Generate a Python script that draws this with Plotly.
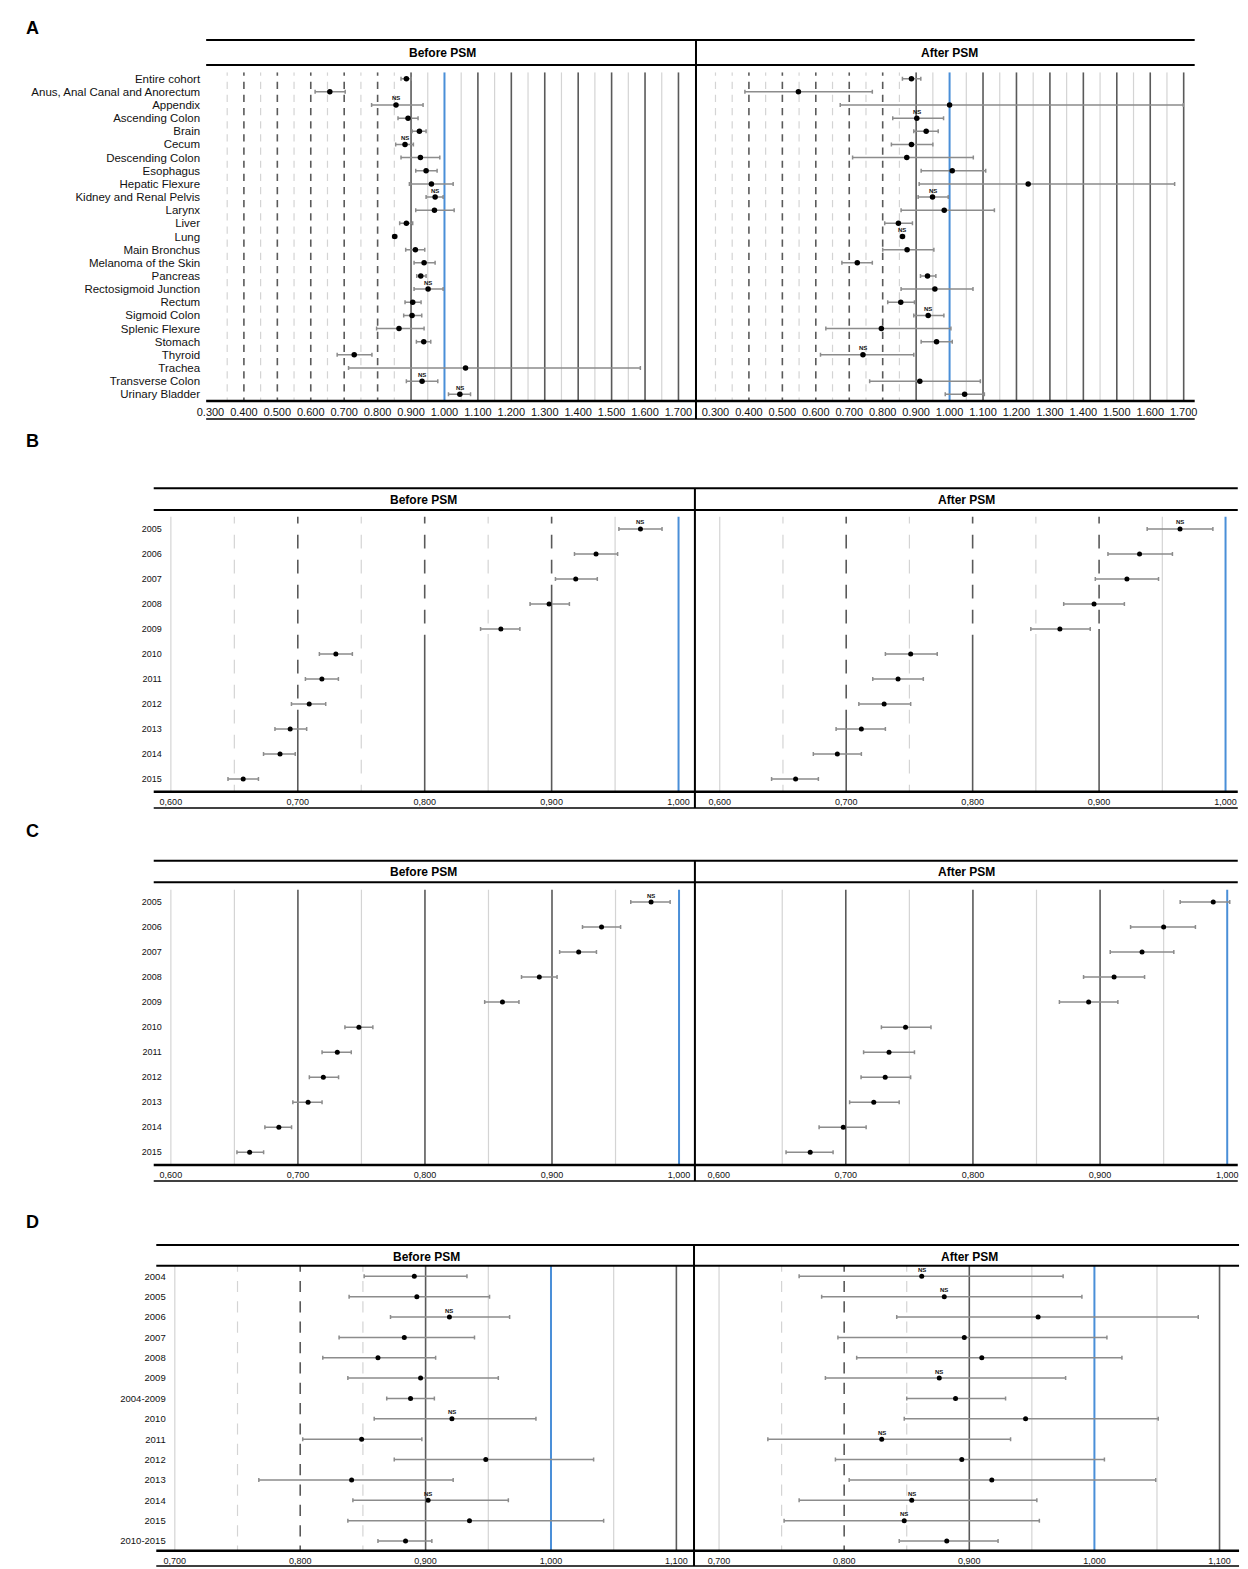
import plotly.graph_objects as go

W, H = 1248, 1569
FONT = "Liberation Sans, Arial, sans-serif"

# -------------------------------------------------------
# Data (hazard ratios with 95% CI)
# -------------------------------------------------------
a_sites = ["Entire cohort", "Anus, Anal Canal and Anorectum", "Appendix", "Ascending Colon", "Brain",
           "Cecum", "Descending Colon", "Esophagus", "Hepatic Flexure", "Kidney and Renal Pelvis",
           "Larynx", "Liver", "Lung", "Main Bronchus", "Melanoma of the Skin", "Pancreas",
           "Rectosigmoid Junction", "Rectum", "Sigmoid Colon", "Splenic Flexure", "Stomach",
           "Thyroid", "Trachea", "Transverse Colon", "Urinary Bladder"]
a_before_hr = [0.886, 0.657, 0.855, 0.891, 0.925, 0.882, 0.928, 0.945, 0.961, 0.972, 0.970, 0.886, 0.851,
               0.913, 0.939, 0.929, 0.951, 0.905, 0.903, 0.864, 0.938, 0.730, 1.063, 0.933, 1.046]
a_before_lo = [0.870, 0.613, 0.782, 0.861, 0.903, 0.854, 0.870, 0.914, 0.895, 0.945, 0.914, 0.866, 0.845,
               0.884, 0.909, 0.917, 0.909, 0.882, 0.878, 0.797, 0.916, 0.679, 0.713, 0.886, 1.012]
a_before_hi = [0.900, 0.703, 0.936, 0.921, 0.945, 0.907, 0.986, 0.978, 1.026, 0.996, 1.029, 0.905, 0.857,
               0.941, 0.972, 0.945, 0.996, 0.930, 0.932, 0.939, 0.959, 0.783, 1.586, 0.980, 1.078]
a_before_ns = ["Appendix", "Cecum", "Kidney and Renal Pelvis", "Rectosigmoid Junction",
               "Transverse Colon", "Urinary Bladder"]
a_after_hr = [0.886, 0.548, 1.000, 0.902, 0.930, 0.886, 0.872, 1.008, 1.235, 0.949, 0.984, 0.847, 0.859,
              0.873, 0.724, 0.934, 0.956, 0.854, 0.936, 0.796, 0.961, 0.741, None, 0.911, 1.045]
a_after_lo = [0.859, 0.388, 0.673, 0.830, 0.893, 0.826, 0.710, 0.915, 0.909, 0.906, 0.855, 0.806, 0.853,
              0.800, 0.678, 0.913, 0.855, 0.815, 0.893, 0.630, 0.915, 0.614, None, 0.761, 0.987]
a_after_hi = [0.914, 0.769, 1.699, 0.982, 0.966, 0.950, 1.071, 1.108, 1.673, 0.996, 1.134, 0.889, 0.865,
              0.953, 0.769, 0.959, 1.070, 0.895, 0.983, 1.004, 1.008, 0.893, None, 1.092, 1.104]
a_after_ns = ["Ascending Colon", "Kidney and Renal Pelvis", "Lung", "Sigmoid Colon", "Thyroid"]
a_ticks = [0.3, 0.4, 0.5, 0.6, 0.7, 0.8, 0.9, 1.0, 1.1, 1.2, 1.3, 1.4, 1.5, 1.6, 1.7]
a_ticktext = ["0.300", "0.400", "0.500", "0.600", "0.700", "0.800", "0.900", "1.000",
              "1.100", "1.200", "1.300", "1.400", "1.500", "1.600", "1.700"]

bc_years = ["2005", "2006", "2007", "2008", "2009", "2010", "2011", "2012", "2013", "2014", "2015"]
b_before_hr = [0.970, 0.935, 0.919, 0.898, 0.860, 0.730, 0.719, 0.709, 0.694, 0.686, 0.657]
b_before_lo = [0.953, 0.918, 0.903, 0.883, 0.844, 0.717, 0.706, 0.695, 0.682, 0.673, 0.645]
b_before_hi = [0.987, 0.952, 0.936, 0.914, 0.875, 0.743, 0.732, 0.722, 0.707, 0.698, 0.669]
b_before_ns = ["2005"]
b_after_hr = [0.964, 0.932, 0.922, 0.896, 0.869, 0.751, 0.741, 0.730, 0.712, 0.693, 0.660]
b_after_lo = [0.938, 0.907, 0.897, 0.872, 0.846, 0.731, 0.721, 0.710, 0.692, 0.674, 0.641]
b_after_hi = [0.990, 0.958, 0.947, 0.920, 0.893, 0.772, 0.761, 0.751, 0.731, 0.712, 0.678]
b_after_ns = ["2005"]

c_before_hr = [0.978, 0.939, 0.921, 0.890, 0.861, 0.748, 0.731, 0.720, 0.708, 0.685, 0.662]
c_before_lo = [0.962, 0.924, 0.906, 0.876, 0.847, 0.737, 0.719, 0.709, 0.696, 0.674, 0.652]
c_before_hi = [0.993, 0.954, 0.935, 0.904, 0.874, 0.759, 0.742, 0.732, 0.719, 0.695, 0.673]
c_before_ns = ["2005"]
c_after_hr = [0.989, 0.950, 0.933, 0.911, 0.891, 0.747, 0.734, 0.731, 0.722, 0.698, 0.672]
c_after_lo = [0.963, 0.924, 0.908, 0.887, 0.868, 0.728, 0.714, 0.712, 0.703, 0.679, 0.653]
c_after_hi = [1.002, 0.975, 0.958, 0.935, 0.914, 0.767, 0.754, 0.751, 0.742, 0.716, 0.690]
c_after_ns = []
bc_ticks = [0.6, 0.7, 0.8, 0.9, 1.0]
bc_ticktext = ["0,600", "0,700", "0,800", "0,900", "1,000"]

d_groups = ["2004", "2005", "2006", "2007", "2008", "2009", "2004-2009",
            "2010", "2011", "2012", "2013", "2014", "2015", "2010-2015"]
d_before_hr = [0.891, 0.893, 0.919, 0.883, 0.862, 0.896, 0.888, 0.921, 0.849, 0.948, 0.841, 0.902, 0.935, 0.884]
d_before_lo = [0.851, 0.839, 0.872, 0.831, 0.818, 0.838, 0.869, 0.859, 0.802, 0.875, 0.767, 0.842, 0.838, 0.862]
d_before_hi = [0.933, 0.951, 0.967, 0.939, 0.908, 0.958, 0.907, 0.988, 0.897, 1.034, 0.922, 0.966, 1.042, 0.905]
d_before_ns = ["2006", "2010", "2014"]
d_after_hr = [0.862, 0.880, 0.955, 0.896, 0.910, 0.876, 0.889, 0.945, 0.830, 0.894, 0.918, 0.854, 0.848, 0.882]
d_after_lo = [0.764, 0.782, 0.842, 0.795, 0.810, 0.785, 0.850, 0.848, 0.739, 0.793, 0.804, 0.764, 0.752, 0.844]
d_after_hi = [0.975, 0.990, 1.083, 1.010, 1.022, 0.977, 0.929, 1.051, 0.933, 1.008, 1.049, 0.954, 0.956, 0.923]
d_after_ns = ["2004", "2005", "2009", "2011", "2014", "2015"]
d_ticks = [0.7, 0.8, 0.9, 1.0, 1.1]
d_ticktext = ["0,700", "0,800", "0,900", "1,000", "1,100"]

# -------------------------------------------------------
# Styles
# -------------------------------------------------------
LIGHT = "#d4d4d4"
DARK = "#5a5a5a"
BLUE = "#4a8fd8"
WHISKER = "#8c8c8c"

# grid specs: (value, kind, row where the line turns solid; None = dashed all the way)
ALL = -0.5
grid_a_left = ([(v, "light", None) for v in [0.35, 0.45, 0.55, 0.65, 0.75, 0.85]]
               + [(v, "light", ALL) for v in [0.95, 1.05, 1.15, 1.25, 1.35, 1.45, 1.55, 1.65]]
               + [(v, "dark", None) for v in [0.4, 0.5, 0.6, 0.7, 0.8]]
               + [(v, "dark", ALL) for v in [0.9, 1.1, 1.2, 1.3, 1.4, 1.5, 1.6, 1.7]])
grid_a_right = [(0.3, "light", None)] + grid_a_left
grid_b_left = [(0.6, "light", ALL), (0.65, "light", None), (0.75, "light", None), (0.85, "light", 4.2),
               (0.95, "light", ALL), (0.7, "dark", 7.24), (0.8, "dark", 4.24), (0.9, "dark", 2.24)]
grid_b_right = [(0.6, "light", ALL), (0.65, "light", None), (0.75, "light", None), (0.85, "light", 4.2),
                (0.95, "light", ALL), (0.7, "dark", 7.24), (0.8, "dark", 4.24), (0.9, "dark", 4.0)]
grid_c_left = [(v, "light", ALL) for v in [0.6, 0.65, 0.75, 0.85, 0.95]] + \
              [(v, "dark", ALL) for v in [0.7, 0.8, 0.9]]
grid_c_right = [(v, "light", ALL) for v in [0.65, 0.75, 0.85, 0.95]] + \
               [(v, "dark", ALL) for v in [0.7, 0.8, 0.9]]
grid_d = [(0.7, "light", ALL), (0.75, "light", None), (0.85, "light", None), (0.95, "light", ALL),
          (1.05, "light", ALL), (0.8, "dark", None), (0.9, "dark", ALL), (1.1, "dark", ALL)]

# -------------------------------------------------------
# Panels (pixel geometry of the original figure)
# -------------------------------------------------------
panels = [
    dict(labels=a_sites, hr=a_before_hr, lo=a_before_lo, hi=a_before_hi, ns=a_before_ns,
         xmap=((0.4, 235.3), (1.0, 438.8)), xdom=(200, 690), rows=(78.7, 394.3), so=8,
         ticks=a_ticks, ticktext=a_ticktext, grid=grid_a_left, left=True, lab=11.5, tick=11, ms=5.5),
    dict(labels=a_sites, hr=a_after_hr, lo=a_after_lo, hi=a_after_hi, ns=a_after_ns,
         xmap=((0.4, 747.7), (1.0, 951.3)), xdom=(698, 1197), rows=(78.7, 394.3), so=8,
         ticks=a_ticks, ticktext=a_ticktext, grid=grid_a_right, left=False, lab=11.5, tick=11, ms=5.5),
    dict(labels=bc_years, hr=b_before_hr, lo=b_before_lo, hi=b_before_hi, ns=b_before_ns,
         xmap=((0.6, 161.2), (1.0, 676.3)), xdom=(157, 690), rows=(529, 779), so=4,
         ticks=bc_ticks, ticktext=bc_ticktext, grid=grid_b_left, left=True, lab=9, tick=9, ms=5),
    dict(labels=bc_years, hr=b_after_hr, lo=b_after_lo, hi=b_after_hi, ns=b_after_ns,
         xmap=((0.6, 718.1), (1.0, 1231.3)), xdom=(697, 1243), rows=(529, 779), so=4,
         ticks=bc_ticks, ticktext=bc_ticktext, grid=grid_b_right, left=False, lab=9, tick=9, ms=5),
    dict(labels=bc_years, hr=c_before_hr, lo=c_before_lo, hi=c_before_hi, ns=c_before_ns,
         xmap=((0.6, 161.2), (1.0, 676.8)), xdom=(157, 690), rows=(902, 1152.3), so=4,
         ticks=bc_ticks, ticktext=bc_ticktext, grid=grid_c_left, left=True, lab=9, tick=9, ms=5),
    dict(labels=bc_years, hr=c_after_hr, lo=c_after_lo, hi=c_after_hi, ns=c_after_ns,
         xmap=((0.6, 717.0), (1.0, 1233.0)), xdom=(697, 1243), rows=(902, 1152.3), so=4,
         ticks=bc_ticks, ticktext=bc_ticktext, grid=grid_c_right, left=False, lab=9, tick=9, ms=5),
    dict(labels=d_groups, hr=d_before_hr, lo=d_before_lo, hi=d_before_hi, ns=d_before_ns,
         xmap=((0.7, 165.2), (1.1, 674.1)), xdom=(160, 689), rows=(1276.3, 1541), so=3,
         ticks=d_ticks, ticktext=d_ticktext, grid=grid_d, left=True, lab=9.5, tick=9, ms=5),
    dict(labels=d_groups, hr=d_after_hr, lo=d_after_lo, hi=d_after_hi, ns=d_after_ns,
         xmap=((0.7, 717.4), (1.1, 1225.2)), xdom=(696, 1245), rows=(1276.3, 1541), so=3,
         ticks=d_ticks, ticktext=d_ticktext, grid=grid_d, left=False, lab=9.5, tick=9, ms=5),
]

fig = go.Figure()
shapes = []
annotations = []
layout = {}

for i, p in enumerate(panels, start=1):
    sfx = "" if i == 1 else str(i)
    xr, yr = "x" + sfx, "y" + sfx
    n = len(p["labels"])

    (v0, p0), (v1, p1) = p["xmap"]
    k = (v1 - v0) / (p1 - p0)
    xrange = [v0 + (p["xdom"][0] - p0) * k, v0 + (p["xdom"][1] - p0) * k]
    first, last = p["rows"]
    step = (last - first) / (n - 1)
    ydom = [1 - (last + step / 2) / H, 1 - (first - step / 2) / H]

    layout["xaxis" + sfx] = dict(
        domain=[p["xdom"][0] / W, p["xdom"][1] / W], range=xrange, anchor=yr,
        showgrid=False, zeroline=False, showline=False, ticks="",
        tickmode="array", tickvals=p["ticks"], ticktext=p["ticktext"],
        tickfont=dict(family=FONT, size=p["tick"], color="#111"), ticklabelstandoff=3,
    )
    layout["yaxis" + sfx] = dict(
        domain=ydom, range=[n - 0.5, -0.5], anchor=xr,
        showgrid=False, zeroline=False, showline=False, ticks="",
        tickmode="array", tickvals=list(range(n)), ticktext=p["labels"],
        showticklabels=p["left"], ticklabelstandoff=p["so"],
        tickfont=dict(family=FONT, size=p["lab"], color="#111"),
    )

    # vertical reference lines
    gap = step * 0.45
    half = (step - gap) / 2
    dash = f"{half:.2f}px,{gap:.2f}px,{half:.2f}px,0px"
    for v, kind, solid_from in p["grid"]:
        color = LIGHT if kind == "light" else DARK
        width = 1.2 if kind == "light" else 1.6
        split = n - 0.5 if solid_from is None else solid_from
        if split > -0.5:
            shapes.append(dict(type="line", xref=xr, yref=yr, x0=v, x1=v, y0=-0.5, y1=split,
                               line=dict(color=color, width=width, dash=dash), layer="below"))
        if split < n - 0.5:
            shapes.append(dict(type="line", xref=xr, yref=yr, x0=v, x1=v, y0=split, y1=n - 0.5,
                               line=dict(color=color, width=width), layer="below"))
    shapes.append(dict(type="line", xref=xr, yref=yr, x0=1.0, x1=1.0, y0=-0.5, y1=n - 0.5,
                       line=dict(color=BLUE, width=2), layer="below"))

    plus = [h - m if m is not None else None for m, h in zip(p["hr"], p["hi"])]
    minus = [m - l if m is not None else None for m, l in zip(p["hr"], p["lo"])]
    fig.add_trace(go.Scatter(
        x=p["hr"], y=list(range(n)), mode="markers", xaxis=xr, yaxis=yr,
        marker=dict(color="black", size=p["ms"]),
        error_x=dict(type="data", symmetric=False, array=plus, arrayminus=minus,
                     color=WHISKER, thickness=1.5, width=2),
        showlegend=False, hoverinfo="skip",
    ))

    for lab in p["ns"]:
        j = p["labels"].index(lab)
        annotations.append(dict(xref=xr, yref=yr, x=p["hr"][j], y=j, text="<b>NS</b>",
                                showarrow=False, yshift=6.5, xanchor="center", yanchor="middle",
                                font=dict(family=FONT, size=6, color="#111")))

# -------------------------------------------------------
# Frames, headers and panel letters
# -------------------------------------------------------
def hline(y, x0, x1, w):
    shapes.append(dict(type="line", xref="paper", yref="paper", x0=x0 / W, x1=x1 / W,
                       y0=1 - y / H, y1=1 - y / H, line=dict(color="black", width=w)))


def vline(x, y0, y1, w):
    shapes.append(dict(type="line", xref="paper", yref="paper", x0=x / W, x1=x / W,
                       y0=1 - y0 / H, y1=1 - y1 / H, line=dict(color="black", width=w)))


def label(x, y, text, size):
    annotations.append(dict(xref="paper", yref="paper", x=x / W, y=1 - y / H, text=text,
                            showarrow=False, xanchor="center", yanchor="middle",
                            font=dict(family=FONT, size=size, color="black")))


frames = [
    # letter, letter y, header top, header bottom, bottom line, underline, x0, sep, x1, title y, left title x, right title x
    ("A", 28, 40, 65, 401, 419, 197, 694, 1200, 53, 437, 951),
    ("B", 441, 488.3, 510, 791.7, 808, 143.8, 692.9, 1243.7, 500, 418, 968),
    ("C", 831, 860.7, 882.3, 1165, 1181, 143.8, 692.9, 1243.7, 872, 418, 968),
    ("D", 1222, 1245, 1265.7, 1550.7, 1566, 146.4, 692, 1245, 1257, 421, 972),
]
for letter, ly, top, hb, bot, und, x0, sep, x1, ty, tl, trt in frames:
    hline(top, x0, x1, 2)
    hline(hb, x0, x1, 2)
    hline(bot, x0, x1, 2.5)
    hline(und, x0, x1, 1.5)
    vline(sep, top, und, 2)
    label(21, ly, f"<b>{letter}</b>", 18)
    label(tl, ty, "<b>Before PSM</b>", 12)
    label(trt, ty, "<b>After PSM</b>", 12)

fig.update_layout(
    width=W, height=H,
    margin=dict(l=0, r=0, t=0, b=0),
    paper_bgcolor="white", plot_bgcolor="rgba(0,0,0,0)",
    shapes=shapes, annotations=annotations,
    **layout,
)

# page without the default body margin so the figure fits the window exactly
fig.write_html("out.html", config={"displayModeBar": False},
               post_script="document.body.style.margin='0';"
                           "document.documentElement.style.overflow='hidden';")
